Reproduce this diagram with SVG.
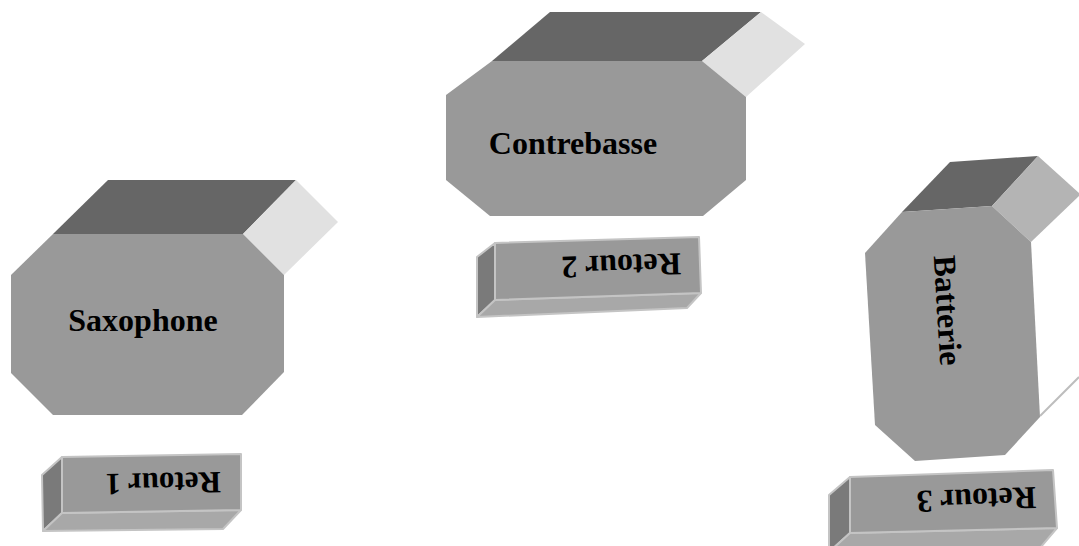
<svg xmlns="http://www.w3.org/2000/svg" width="1079" height="546" viewBox="0 0 1079 546">
<style>
.front{fill:#999999}
.top{fill:#666666}
.side{fill:#e1e1e1}
.side2{fill:#b4b4b4}
.bf{fill:#999999;stroke:#c4c4c4;stroke-width:2;stroke-linejoin:round}
.bl{fill:#7a7a7a;stroke:#c4c4c4;stroke-width:2;stroke-linejoin:round}
.bb{fill:#a8a8a8;stroke:#c4c4c4;stroke-width:2;stroke-linejoin:round}
.lbl{font-family:"Liberation Serif","Times New Roman",serif;font-weight:bold;font-size:32px;fill:#000;text-anchor:middle}
</style>
<rect width="1079" height="546" fill="#ffffff"/>
<g id="saxophone">
<polygon class="top" points="53,234 108,180 296,180 243,234"/>
<polygon class="side" points="243,234 296,180 338,222 284,275"/>
<polygon class="front" points="53,234 243,234 284,275 284,372 242,415 53,415 11,373 11,275"/>
<text class="lbl" x="143" y="331">Saxophone</text>
</g>
<g id="retour1">
<polygon class="bl" points="62,457 42,475 43,531 62,513"/>
<polygon class="bb" points="62,513 241,510 223,529 43,531"/>
<polygon class="bf" points="62,457 241,454 241,510 62,513"/>
<text class="lbl" style="font-size:31px" transform="translate(163,473) rotate(179)">Retour 1</text>
</g>
<g id="contrebasse">
<polygon class="top" points="492,61 550,12 761,12 702,61"/>
<polygon class="side" points="702,61 761,12 805,44 746,97"/>
<polygon class="front" points="492,61 702,61 746,97 746,180 703,216 490,216 446,180 446,95"/>
<text class="lbl" x="573" y="154">Contrebasse</text>
</g>
<g id="retour2">
<polygon class="bl" points="495,243 477,257 477,317 495,300"/>
<polygon class="bb" points="495,300 701,293 687,308 477,317"/>
<polygon class="bf" points="495,243 699,237 701,293 495,300"/>
<text class="lbl" transform="translate(621,255) rotate(178.3)">Retour 2</text>
</g>
<g id="batterie">
<polygon class="top" points="902,212 950,162 1038,156 992,206"/>
<polygon class="side2" points="992,206 1038,156 1079,193 1079,196 1031,242"/>
<line x1="1040" y1="416" x2="1079" y2="377" stroke="#bdbdbd" stroke-width="2"/>
<polygon class="front" points="902,212 992,206 1031,242 1040,417 1005,455 915,461 875,425 865,253"/>
<text class="lbl" transform="translate(937,311) rotate(86.5)">Batterie</text>
</g>
<g id="retour3">
<polygon class="bl" points="850,477 829,495 829,552 850,533"/>
<polygon class="bb" points="850,533 1057,528 1040,548 829,552"/>
<polygon class="bf" points="850,477 1053,470 1057,528 850,533"/>
<text class="lbl" transform="translate(976,489) rotate(178)">Retour 3</text>
</g>
<g id="connectors"/>
</svg>
